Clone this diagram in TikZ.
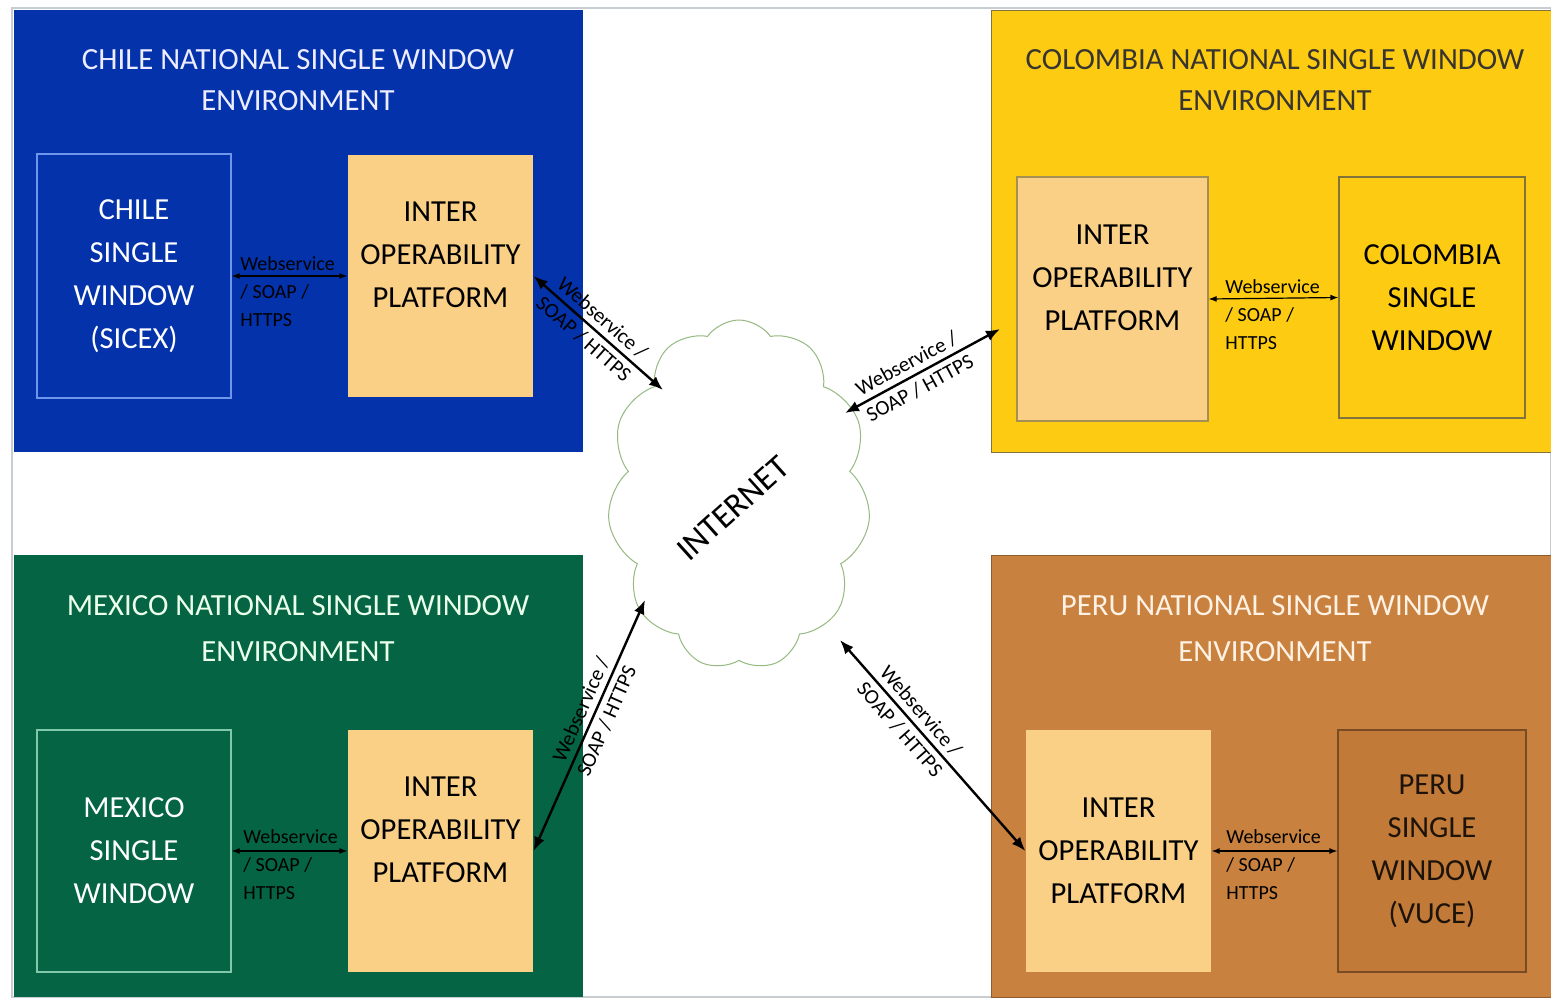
\documentclass[tikz,border=0pt]{standalone}
\usepackage{fontspec}
\setmainfont{Carlito}
\usetikzlibrary{arrows.meta,shapes.symbols}
\definecolor{chileblue}{RGB}{3,50,170}
\definecolor{cobyellow}{RGB}{253,204,18}
\definecolor{mexgreen}{RGB}{4,100,68}
\definecolor{perubrown}{RGB}{200,129,62}
\definecolor{ipfill}{RGB}{250,208,135}
\definecolor{chswborder}{RGB}{110,150,235}
\definecolor{coborder}{RGB}{130,115,60}
\definecolor{mxswborder}{RGB}{130,200,170}
\definecolor{peswfill}{RGB}{194,122,56}
\definecolor{peborder}{RGB}{120,75,35}
\definecolor{cloudgreen}{RGB}{150,185,130}
\definecolor{framegray}{RGB}{200,205,210}
\begin{document}
\begin{tikzpicture}[x=0.5pt,y=-0.5pt,
  panel/.style={rectangle, anchor=north west, inner sep=0pt, minimum height=221pt},
  innerbox/.style={rectangle, inner sep=0pt, align=center, line width=0.6pt,
    font=\fontsize{15.3pt}{21.5pt}\selectfont},
  title/.style={align=center, inner sep=0pt, font=\fontsize{15.4pt}{20.5pt}\selectfont},
  smalllab/.style={anchor=north west, align=left, inner sep=0pt, text=black,
    font=\fontsize{10pt}{14pt}\selectfont},
  dlabel/.style={sloped, align=center, inner sep=0pt, text=black,
    font=\fontsize{10.5pt}{14pt}\selectfont},
  bigarrow/.style={line width=1.2pt, black, {Latex[length=7pt,width=5.5pt]}-{Latex[length=7pt,width=5.5pt]}},
  smallarrow/.style={line width=0.6pt, black, {Latex[length=4pt,width=3pt]}-{Latex[length=4pt,width=3pt]}}
]
\useasboundingbox (0,0) rectangle (1551,997);
\fill[white] (0,0) rectangle (1551,997);
\draw[framegray, line width=0.6pt] (12,8) rectangle (1551,997);

% panels
\node[panel, fill=chileblue, minimum width=284.5pt] (chile) at (14,10) {};
\node[panel, fill=cobyellow, draw=coborder, line width=0.5pt, minimum width=280pt] (colombia) at (991,10) {};
\node[panel, fill=mexgreen, minimum width=284.5pt] (mexico) at (14,555) {};
\node[panel, fill=perubrown, draw=peborder!70!perubrown, line width=0.5pt, minimum width=280pt] (peru) at (991,555) {};

% titles
\node[title, text={white!93!blue}] (chtitle) at (298,80.5) {CHILE NATIONAL SINGLE WINDOW\\ENVIRONMENT};
\node[title, text=black!90!yellow] (cotitle) at (1275,80.5) {COLOMBIA NATIONAL SINGLE WINDOW\\ENVIRONMENT};
\node[title, text={white!92!green}, font=\fontsize{15.4pt}{23pt}\selectfont] (mxtitle) at (298,629) {MEXICO NATIONAL SINGLE WINDOW\\ENVIRONMENT};
\node[title, text={white!90!orange}, font=\fontsize{15.4pt}{23pt}\selectfont] (petitle) at (1275,629) {PERU NATIONAL SINGLE WINDOW\\ENVIRONMENT};

% inner boxes
\node[innerbox, draw=chswborder, fill=chileblue, text=white, minimum width=97pt, minimum height=122pt] (chsw) at (134,276) {CHILE\\SINGLE\\WINDOW\\(SICEX)};
\node[innerbox, fill=ipfill, text=black, minimum width=92.5pt, minimum height=121pt] (chip) at (440.5,276) {INTER\\OPERABILITY\\PLATFORM\\\phantom{X}};
\node[innerbox, draw=coborder, fill=cobyellow, text=black, minimum width=93pt, minimum height=120.5pt] (cosw) at (1432,297.5) {COLOMBIA\\SINGLE\\WINDOW};
\node[innerbox, draw=coborder!70!ipfill, fill=ipfill, text=black, minimum width=95.5pt, minimum height=122pt] (coip) at (1112.5,299) {INTER\\OPERABILITY\\PLATFORM\\\phantom{X}};
\node[innerbox, draw=mxswborder, fill=mexgreen, text=white, minimum width=97pt, minimum height=121pt] (mxsw) at (134,851) {MEXICO\\SINGLE\\WINDOW};
\node[innerbox, fill=ipfill, text=black, minimum width=92.5pt, minimum height=121pt] (mxip) at (440.5,851) {INTER\\OPERABILITY\\PLATFORM\\\phantom{X}};
\node[innerbox, draw=peborder, fill=peswfill, text=black!85!brown, minimum width=94pt, minimum height=121pt] (pesw) at (1432,851) {PERU\\SINGLE\\WINDOW\\(VUCE)};
\node[innerbox, fill=ipfill, text=black, minimum width=92.5pt, minimum height=121pt] (peip) at (1118.5,851) {INTER\\OPERABILITY\\PLATFORM};

% local connectors
\draw[smallarrow] (chsw.east) -- (chip.west);
\draw[smallarrow] (coip.east) -- (cosw.west);
\draw[smallarrow] (mxsw.east) -- (mxip.west);
\draw[smallarrow] (peip.east) -- (pesw.west);
\node[smalllab] (chlab) at (240,256) {Webservice\\/ SOAP /\\HTTPS};
\node[smalllab] (colab) at (1225,279) {Webservice\\/ SOAP /\\HTTPS};
\node[smalllab] (mxlab) at (243,829) {Webservice\\/ SOAP /\\HTTPS};
\node[smalllab] (pelab) at (1226,829) {Webservice\\/ SOAP /\\HTTPS};

% cloud
\node[cloud, cloud puffs=11, cloud puff arc=110, cloud ignores aspect, draw=cloudgreen, line width=0.5pt, fill=white,
  minimum width=131.5pt, minimum height=175pt] (cloud) at (739,495) {};
\node[rotate=42, inner sep=0pt, font=\fontsize{17pt}{20pt}\selectfont] (inet) at (733,508) {INTERNET};

\coordinate (c1) at (663,390);
\coordinate (c2) at (845,413);
\coordinate (c3) at (645,600);
\coordinate (c4) at (840,640);
\coordinate (cop) at (1000,329);

\draw[bigarrow] (chip.east) -- node[dlabel, pos=0.46] {Webservice /\\SOAP / HTTPS} (c1);
\draw[bigarrow] (cop) -- node[dlabel, pos=0.56] {Webservice /\\SOAP / HTTPS} (c2);
\draw[bigarrow] (mxip.east) -- node[dlabel, pos=0.54] {Webservice /\\SOAP / HTTPS} (c3);
\draw[bigarrow] (peip.west) -- node[dlabel, pos=0.62] {Webservice /\\SOAP / HTTPS} (c4);
\end{tikzpicture}
\end{document}
